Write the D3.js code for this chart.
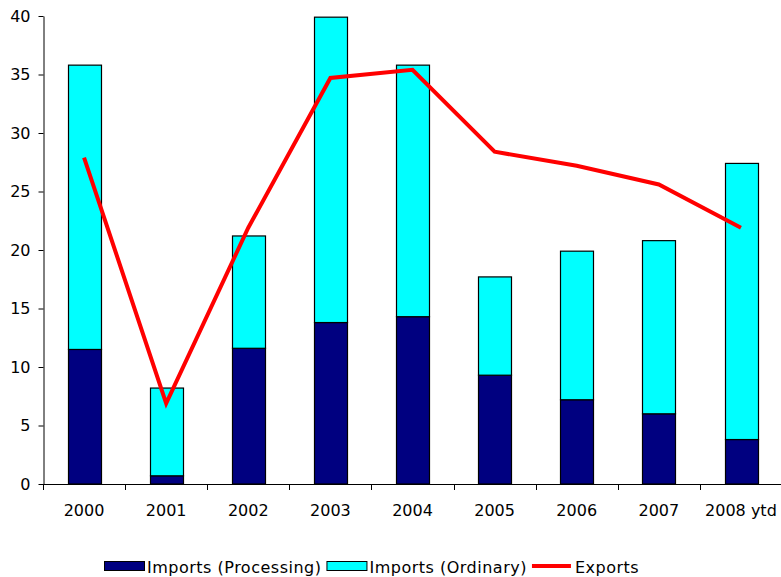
<!DOCTYPE html>
<html>
<head>
<meta charset="utf-8">
<script src="https://cdn.jsdelivr.net/npm/d3@7"></script>
<style>
  html, body { margin: 0; padding: 0; background: #fff; }
  svg { display: block; }
  text { font-family: "DejaVu Sans", Verdana, sans-serif; fill: #000; }
</style>
</head>
<body>
<svg id="chart" width="781" height="577"></svg>
<script>
// Years shown on the x axis
const years = ["2000", "2001", "2002", "2003", "2004", "2005", "2006", "2007", "2008 ytd"];
// Stacked import components
const importsProcessing = [11.5, 0.7, 11.6, 13.8, 14.3, 9.3, 7.2, 6.0, 3.8];
const importsOrdinary   = [24.3, 7.5, 9.6, 26.1, 21.5, 8.4, 12.7, 14.8, 23.6];
// Export line
const exportsLine = [27.9, 6.9, 21.9, 34.7, 35.4, 28.4, 27.2, 25.6, 21.9];
// Value axis ticks
const yTicks = [0, 5, 10, 15, 20, 25, 30, 35, 40];
const seriesNames = ["Imports (Processing)", "Imports (Ordinary)", "Exports"];
const colors = { processing: "#000080", ordinary: "#00ffff", exports: "#ff0000" };

const svg = d3.select("#chart");
const plotLeft = 43, plotRight = 782, plotTop = 16, plotBottom = 484;
const fontSize = "16px";

const x = d3.scaleBand().domain(years).range([plotLeft, plotRight]).paddingInner(0.6).paddingOuter(0.3);
const xBand = d3.scaleBand().domain(years).range([plotLeft, plotRight]);
const y = d3.scaleLinear().domain([0, 40]).range([plotBottom, plotTop]);

const rows = years.map((yr, i) => ({
  year: yr, processing: importsProcessing[i], ordinary: importsOrdinary[i]
}));
const stack = d3.stack().keys(["processing", "ordinary"]);
const layers = stack(rows);

// Stacked bars
svg.append("g").selectAll("g")
  .data(layers).join("g")
  .attr("fill", d => colors[d.key])
  .selectAll("rect")
  .data(d => d).join("rect")
  .attr("x", d => Math.round(x(d.data.year)) + 0.5)
  .attr("width", Math.round(x.bandwidth()))
  .attr("y", d => y(d[1]))
  .attr("height", d => y(d[0]) - y(d[1]))
  .attr("stroke", "#000")
  .attr("stroke-width", 1.2);

// Y axis
const yAxis = d3.axisLeft(y).tickValues(yTicks).tickSize(5).tickSizeOuter(0).tickPadding(8);
const gy = svg.append("g").attr("transform", `translate(${plotLeft + 0.5},0)`).call(yAxis);
gy.select(".domain").attr("stroke", "#000");
gy.selectAll(".tick line").attr("stroke", "#000");
gy.selectAll("text").style("font-size", fontSize).attr("font-family", "DejaVu Sans, Verdana, sans-serif");

// X axis: ticks at category boundaries
const gx = svg.append("g").attr("transform", `translate(0,${plotBottom})`);
gx.append("line").attr("x1", plotLeft).attr("x2", plotRight).attr("y1", 0.5).attr("y2", 0.5).attr("stroke", "#000");
const boundaries = years.map(d => xBand(d)).concat([plotRight]);
gx.selectAll("line.tk").data(boundaries).join("line").attr("class", "tk")
  .attr("x1", d => Math.round(d) + 0.5).attr("x2", d => Math.round(d) + 0.5)
  .attr("y1", 0).attr("y2", 6).attr("stroke", "#000");
gx.selectAll("text").data(years).join("text")
  .attr("x", d => xBand(d) + xBand.bandwidth() / 2)
  .attr("y", 32)
  .attr("text-anchor", "middle")
  .style("font-size", fontSize)
  .text(d => d);

// Export line
const line = d3.line()
  .x((d, i) => x(years[i]) + x.bandwidth() / 2)
  .y(d => y(d));
svg.append("path").datum(exportsLine)
  .attr("d", line).attr("fill", "none")
  .attr("stroke", colors.exports).attr("stroke-width", 4)
  .attr("stroke-linejoin", "miter");

// Legend: swatch + label, laid out left to right
const legend = svg.append("g").attr("transform", "translate(0,566)");
const items = [
  { name: seriesNames[0], type: "rect", color: colors.processing },
  { name: seriesNames[1], type: "rect", color: colors.ordinary },
  { name: seriesNames[2], type: "line", color: colors.exports }
];
let cursor = 104;
items.forEach(it => {
  const g = legend.append("g").attr("transform", `translate(${cursor},0)`);
  if (it.type === "rect") {
    g.append("rect").attr("x", 0.5).attr("y", -4.5).attr("width", 40).attr("height", 9)
      .attr("fill", it.color).attr("stroke", "#000").attr("stroke-width", 1);
  } else {
    g.append("line").attr("x1", 0).attr("x2", 39).attr("y1", 0).attr("y2", 0)
      .attr("stroke", it.color).attr("stroke-width", 4);
  }
  const t = g.append("text").attr("x", 43).attr("y", 7)
    .style("font-size", fontSize).style("letter-spacing", "0.5px").text(it.name);
  cursor += 43 + t.node().getComputedTextLength() + 5;
});
</script>
</body>
</html>
